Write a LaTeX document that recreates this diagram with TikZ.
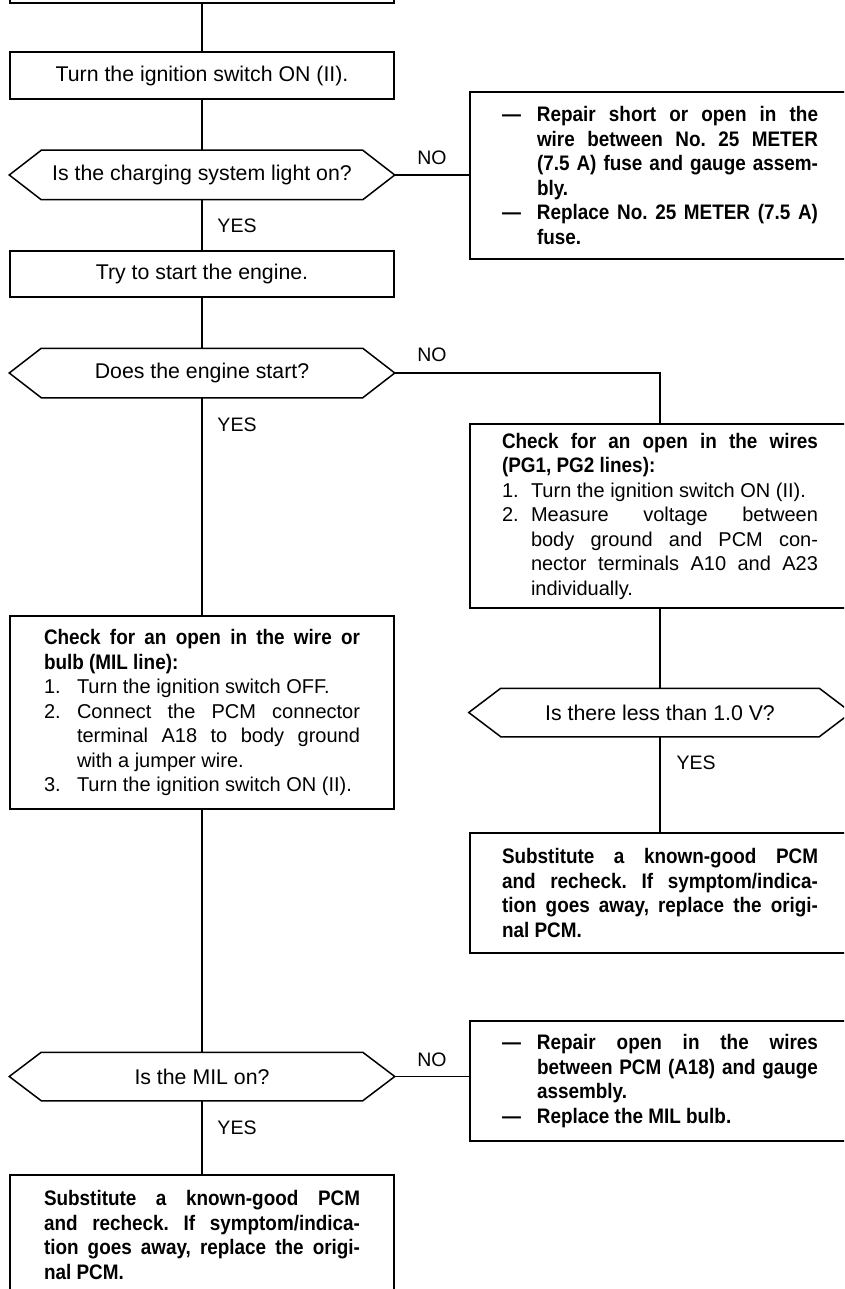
\documentclass[tikz,border=0pt]{standalone}
\usepackage{fontspec}
\setmainfont{Liberation Sans}[BoldFeatures={FakeStretch=0.9}]
\newcommand\hexoutline[1]{\draw (#1.west) -- ([xshift=32pt]#1.north west) -- ([xshift=-32pt]#1.north east) -- (#1.east) -- ([xshift=-32pt]#1.south east) -- ([xshift=32pt]#1.south west) -- cycle;}
\newcommand\jl[2]{\makebox[#1][s]{\spaceskip=0.278em plus 1fil\xspaceskip=0.278em plus 1fil\relax #2}}
\newcommand\bsize{\fontsize{21}{24.5}\selectfont}
\begin{document}
\begin{tikzpicture}[x=1pt,y=-1pt,line width=1.5pt,
  sbox/.style={draw, rectangle, inner sep=0pt, minimum width=384pt, font=\fontsize{21.3}{24.5}\selectfont},
  lbox/.style={draw, rectangle, inner xsep=34pt, inner ysep=0pt, text width=316pt, align=justify, font=\fontsize{20}{24.5}\selectfont\frenchspacing},
  rbox/.style={lbox, inner xsep=32pt},
  boldtext/.style={font=\fontsize{21}{24.5}\selectfont\bfseries\frenchspacing},
  dec/.style={rectangle, inner sep=0pt, minimum width=384pt, minimum height=48pt, font=\fontsize{21.3}{24.5}\selectfont},
  lab/.style={inner sep=0pt, font=\fontsize{19.5}{22}\selectfont},
  conn/.style={draw, line width=1.4pt}
]
\useasboundingbox (0,0) rectangle (844,1289);
\clip (0,0) rectangle (844,1289);

% nodes
\node[sbox, minimum height=60pt, anchor=south] (b0) at (202,4) {};
\node[sbox, minimum height=47pt] (b1) at (202,75.5) {Turn the ignition switch ON (II).};
\node[dec] (d1) at (202,175) {Is the charging system light on?};
\hexoutline{d1}
\node[rbox, boldtext, minimum height=167pt] (r1) at (660,175.5) {%
\makebox[35pt][l]{—}\jl{281pt}{Repair short or open in the}\\
\hspace*{35pt}\jl{281pt}{wire between No. 25 METER}\\
\hspace*{35pt}\jl{281pt}{(7.5 A) fuse and gauge assem-}\\
\hspace*{35pt}bly.\\
\makebox[35pt][l]{—}\jl{281pt}{Replace No. 25 METER (7.5 A)}\\
\hspace*{35pt}fuse.};
\node[sbox, minimum height=46pt] (b2) at (202,274) {Try to start the engine.};
\node[dec] (d2) at (202,373) {Does the engine start?};
\hexoutline{d2}
\node[rbox, minimum height=184pt] (r2) at (660,516) {%
{\bsize\bfseries\jl{316pt}{Check for an open in the wires}}\\
{\bsize\bfseries (PG1, PG2 lines):}\\
\makebox[29pt][l]{1.}Turn the ignition switch ON (II).\\
\makebox[29pt][l]{2.}\jl{287pt}{Measure voltage between}\\
\hspace*{29pt}\jl{287pt}{body ground and PCM con-}\\
\hspace*{29pt}\jl{287pt}{nector terminals A10 and A23}\\
\hspace*{29pt}individually.};
\node[lbox, minimum height=193pt] (l3) at (202,712.5) {%
{\bsize\bfseries\jl{316pt}{Check for an open in the wire or}}\\
{\bsize\bfseries bulb (MIL line):}\\
\makebox[33pt][l]{1.}Turn the ignition switch OFF.\\
\makebox[33pt][l]{2.}\jl{283pt}{Connect the PCM connector}\\
\hspace*{33pt}\jl{283pt}{terminal A18 to body ground}\\
\hspace*{33pt}with a jumper wire.\\
\makebox[33pt][l]{3.}Turn the ignition switch ON (II).};
\node[dec, minimum width=381pt, minimum height=47pt] (d3) at (660,712.5) {Is there less than 1.0 V?};
\hexoutline{d3}
\node[rbox, boldtext, minimum height=120pt] (r3) at (660,893) {%
\jl{316pt}{Substitute a known-good PCM}\\
\jl{316pt}{and recheck. If symptom/indica-}\\
\jl{316pt}{tion goes away, replace the origi-}\\
nal PCM.};
\node[dec, minimum height=47pt] (d4) at (202,1076.5) {Is the MIL on?};
\hexoutline{d4}
\node[rbox, boldtext, minimum height=120pt] (r4) at (660,1081) {%
\makebox[35pt][l]{—}\jl{281pt}{Repair open in the wires}\\
\hspace*{35pt}\jl{281pt}{between PCM (A18) and gauge}\\
\hspace*{35pt}assembly.\\
\makebox[35pt][l]{—}Replace the MIL bulb.};
\node[lbox, boldtext, minimum height=120pt] (b5) at (202,1235) {%
\jl{316pt}{Substitute a known-good PCM}\\
\jl{316pt}{and recheck. If symptom/indica-}\\
\jl{316pt}{tion goes away, replace the origi-}\\
nal PCM.};

% labels
\node[lab] (y1) at (237,226) {YES};
\node[lab] (n1) at (432,158) {NO};
\node[lab] (y2) at (237,425) {YES};
\node[lab] (n2) at (432,355) {NO};
\node[lab] (y3) at (696,763) {YES};
\node[lab] (n4) at (432,1060) {NO};
\node[lab] (y4) at (237,1128) {YES};

% connectors
\draw[conn] (b0.south) -- (b1.north);
\draw[conn] (b1.south) -- (d1.north);
\draw[conn] (d1.south) -- (b2.north);
\draw[conn] (d1.east) -- (d1.east -| r1.west);
\draw[conn] (b2.south) -- (d2.north);
\draw[conn] (d2.east) -| (r2.north);
\draw[conn] (d2.south) -- (l3.north);
\draw[conn] (r2.south) -- (d3.north);
\draw[conn] (d3.south) -- (r3.north);
\draw[conn] (l3.south) -- (d4.north);
\draw[conn] (d4.east) -- (d4.east -| r4.west);
\draw[conn] (d4.south) -- (b5.north);
\end{tikzpicture}
\end{document}
